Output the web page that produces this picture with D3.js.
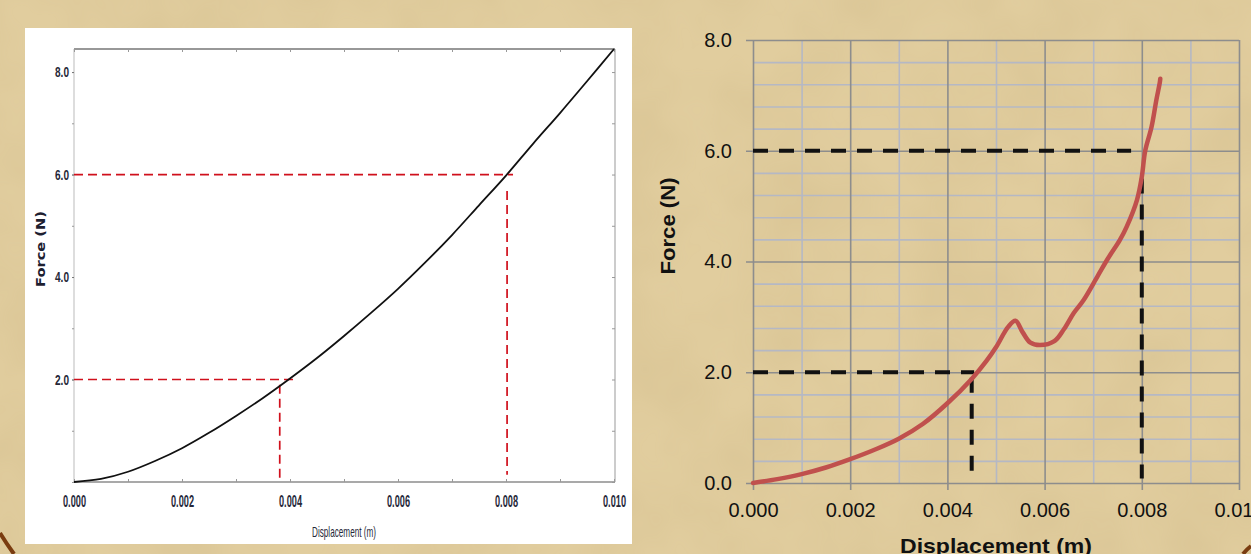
<!DOCTYPE html>
<html>
<head>
<meta charset="utf-8">
<script src="https://cdn.jsdelivr.net/npm/d3@7"></script>
<style>
  body { margin: 0; overflow: hidden; background: #e0cb9c; }
  svg { display: block; }
</style>
</head>
<body>
<div id="chart"></div>
<script>
const W = 1251, H = 554;

// left chart: smooth black loading curve
const leftDisp  = [0, 0.0005, 0.001, 0.0015, 0.002, 0.0025, 0.003, 0.0035, 0.004, 0.0045, 0.005, 0.0055, 0.006, 0.0065, 0.007, 0.0075, 0.008, 0.0085, 0.009, 0.0095, 0.010];
const leftForce = [0, 0.06, 0.2, 0.41, 0.66, 0.96, 1.29, 1.64, 2.02, 2.42, 2.85, 3.3, 3.77, 4.28, 4.82, 5.4, 5.98, 6.6, 7.2, 7.82, 8.45];

// right chart: red measured curve with the bump
const rightDisp  = [0, 0.0005, 0.001, 0.0015, 0.002, 0.0025, 0.003, 0.0035, 0.004, 0.0045, 0.0048, 0.005, 0.00525, 0.0054, 0.00555, 0.0057, 0.0059, 0.0062, 0.0064, 0.0066, 0.0068, 0.0071, 0.0073, 0.00755, 0.00769, 0.0079, 0.008, 0.00807, 0.0082, 0.0083, 0.00837, 0.00838];
const rightForce = [0, 0.07, 0.16, 0.28, 0.43, 0.6, 0.8, 1.07, 1.44, 1.88, 2.2, 2.45, 2.82, 2.93, 2.72, 2.54, 2.49, 2.56, 2.78, 3.07, 3.3, 3.75, 4.05, 4.39, 4.63, 5.11, 5.53, 6.0, 6.43, 6.92, 7.23, 7.3];

const dispTicks = [0, 0.002, 0.004, 0.006, 0.008, 0.010];
const forceTicksRight = [0, 2, 4, 6, 8];
const forceTicksLeft = [2, 4, 6, 8];

// guide lines: [x0, y0, x1, y1] in data units
const leftGuides = [
  [0, 2.0, 0.0041, 2.0], [0.00381, 1.9, 0.00381, 0.05],
  [0, 6.0, 0.00813, 6.0], [0.00802, 5.68, 0.00802, 0.14]
];
const rightGuides = [
  [0, 2.0, 0.00455, 2.0], [0.0045, 1.9, 0.0045, 0.08],
  [0, 6.0, 0.00778, 6.0], [0.0080, 5.5, 0.0080, 0.08]
];

const svg = d3.select("#chart").append("svg")
  .attr("width", W)
  .attr("height", H);

// parchment background
const defs = svg.append("defs");
const f = defs.append("filter").attr("id", "paper").attr("x", 0).attr("y", 0).attr("width", "100%").attr("height", "100%");
f.append("feTurbulence").attr("type", "fractalNoise").attr("baseFrequency", "0.012").attr("numOctaves", 3).attr("seed", 4);
f.append("feColorMatrix").attr("values", "0 0 0 0 0.55  0 0 0 0 0.42  0 0 0 0 0.2  0 0 0 0.35 -0.1");
f.append("feComposite").attr("in2", "SourceGraphic").attr("operator", "in");

svg.append("rect").attr("width", W).attr("height", H).attr("fill", "#e1cd9e");
svg.append("rect").attr("width", W).attr("height", H).attr("fill", "#e1cd9e").attr("filter", "url(#paper)");
svg.append("path").attr("d", "M0,533 Q6,543 14,554").attr("fill", "none").attr("stroke", "#7a3c10").attr("stroke-width", 4);
svg.append("path").attr("d", "M1243,554 Q1247,549 1251,546").attr("fill", "none").attr("stroke", "#7a3c10").attr("stroke-width", 4);

// ---------------- left chart ----------------
svg.append("rect").attr("x", 25).attr("y", 28).attr("width", 607).attr("height", 516).attr("fill", "#fff");

const xL = d3.scaleLinear().domain([0, 0.010]).range([74, 614]);
const yL = d3.scaleLinear().domain([0, 8.45]).range([482, 49]);
const narrow = "'Liberation Sans Narrow', 'Arial Narrow', sans-serif";

// frame
svg.append("line").attr("x1", 74).attr("x2", 615).attr("y1", 49).attr("y2", 49).attr("stroke", "#333").attr("stroke-width", 1.2);
svg.append("line").attr("x1", 74).attr("x2", 615).attr("y1", 482).attr("y2", 482).attr("stroke", "#555").attr("stroke-width", 1.2);
svg.append("line").attr("x1", 74).attr("x2", 74).attr("y1", 49).attr("y2", 482).attr("stroke", "#bbb").attr("stroke-width", 1);
svg.append("line").attr("x1", 615).attr("x2", 615).attr("y1", 49).attr("y2", 482).attr("stroke", "#aaa").attr("stroke-width", 1.2);

const minorX = d3.range(0, 0.0105, 0.001);
const minorY = d3.range(0, 8.5, 1);

const tickStyle = g => {
  g.select(".domain").remove();
  g.selectAll("line").attr("stroke", "#999");
  g.selectAll("text").remove();
};
svg.append("g").attr("transform", "translate(0,482)")
  .call(d3.axisBottom(xL).tickValues(minorX).tickSize(-3)).call(tickStyle);
svg.append("g").attr("transform", "translate(0,49)")
  .call(d3.axisTop(xL).tickValues(minorX).tickSize(-3)).call(tickStyle);
svg.append("g").attr("transform", "translate(74,0)")
  .call(d3.axisLeft(yL).tickValues(minorY).tickSize(2)).call(tickStyle);
svg.append("g").attr("transform", "translate(615,0)")
  .call(d3.axisRight(yL).tickValues(minorY).tickSize(-3)).call(tickStyle);

const lxAxis = svg.append("g").attr("transform", "translate(0,482)")
  .call(d3.axisBottom(xL).tickValues(dispTicks).tickFormat(d3.format(".3f")).tickSize(0).tickPadding(25));
lxAxis.select(".domain").remove();
lxAxis.selectAll("text")
  .attr("font-family", narrow).attr("font-size", 17).attr("font-weight", "bold").attr("fill", "#262838")
  .attr("dy", 0).attr("textLength", 23).attr("lengthAdjust", "spacingAndGlyphs");

const lyAxis = svg.append("g").attr("transform", "translate(74,0)")
  .call(d3.axisLeft(yL).tickValues(forceTicksLeft).tickFormat(d3.format(".1f")).tickSize(2).tickPadding(3));
lyAxis.select(".domain").remove();
lyAxis.selectAll("line").attr("stroke", "#777");
lyAxis.selectAll("text")
  .attr("font-family", narrow).attr("font-size", 15).attr("font-weight", "bold").attr("fill", "#262838")
  .attr("textLength", 14).attr("lengthAdjust", "spacingAndGlyphs");

svg.append("text").attr("x", 344).attr("y", 537).attr("text-anchor", "middle")
  .attr("font-family", narrow).attr("font-size", 15).attr("fill", "#262838")
  .attr("textLength", 64).attr("lengthAdjust", "spacingAndGlyphs")
  .text("Displacement (m)");
svg.append("text").attr("transform", "translate(45,249) rotate(-90)").attr("text-anchor", "middle")
  .attr("font-family", "'DejaVu Sans', sans-serif").attr("font-size", 12).attr("font-weight", "bold").attr("fill", "#1d2030")
  .attr("textLength", 76).attr("lengthAdjust", "spacingAndGlyphs")
  .text("Force (N)");

svg.append("g").selectAll("line").data(leftGuides).join("line")
  .attr("x1", d => xL(d[0])).attr("y1", d => yL(d[1]))
  .attr("x2", d => xL(d[2])).attr("y2", d => yL(d[3]))
  .attr("stroke", "#d0101c").attr("stroke-width", 1.7).attr("stroke-dasharray", "9,5");

const lineL = d3.line().x((d, i) => xL(leftDisp[i])).y(d => yL(d)).curve(d3.curveCatmullRom.alpha(0.5));
svg.append("path").datum(leftForce).attr("d", lineL)
  .attr("fill", "none").attr("stroke", "#111").attr("stroke-width", 1.8);

// ---------------- right chart ----------------
const xR = d3.scaleLinear().domain([0, 0.010]).range([753, 1239]);
const yR = d3.scaleLinear().domain([0, 8]).range([483, 40]);

const gridMinorX = d3.range(0.001, 0.0105, 0.002);
const gridMinorY = d3.range(0.4, 8, 0.4).filter(v => Math.abs(v / 2 - Math.round(v / 2)) > 0.01);

const gridStyle = (g, col, w) => {
  g.select(".domain").remove();
  g.selectAll("text").remove();
  g.selectAll("line").attr("stroke", col).attr("stroke-width", w);
};
svg.append("g").attr("transform", "translate(0,483)")
  .call(d3.axisBottom(xR).tickValues(gridMinorX).tickSize(-443)).call(gridStyle, "#b5b8c4", 1.6);
svg.append("g").attr("transform", "translate(753,0)")
  .call(d3.axisLeft(yR).tickValues(gridMinorY).tickSize(-486)).call(gridStyle, "#b5b8c4", 1.6);
svg.append("g").attr("transform", "translate(0,490)")
  .call(d3.axisBottom(xR).tickValues(dispTicks).tickSize(-450)).call(gridStyle, "#8d8d8d", 1.6);
svg.append("g").attr("transform", "translate(746,0)")
  .call(d3.axisLeft(yR).tickValues(forceTicksRight).tickSize(-493)).call(gridStyle, "#8d8d8d", 1.6);

const rxAxis = svg.append("g").attr("transform", "translate(0,483)")
  .call(d3.axisBottom(xR).tickValues(dispTicks).tickFormat(d3.format(".3f")).tickSize(0).tickPadding(20));
rxAxis.select(".domain").remove();
rxAxis.selectAll("text").attr("font-family", "'Liberation Sans', Arial, sans-serif").attr("font-size", 20).attr("fill", "#111");

const ryAxis = svg.append("g").attr("transform", "translate(753,0)")
  .call(d3.axisLeft(yR).tickValues(forceTicksRight).tickFormat(d3.format(".1f")).tickSize(0).tickPadding(21));
ryAxis.select(".domain").remove();
ryAxis.selectAll("text").attr("font-family", "'Liberation Sans', Arial, sans-serif").attr("font-size", 20).attr("fill", "#111");

svg.append("text").attr("x", 996).attr("y", 553).attr("text-anchor", "middle")
  .attr("font-family", "'Liberation Sans', Arial, sans-serif").attr("font-size", 21).attr("font-weight", "bold").attr("fill", "#111")
  .attr("textLength", 192).attr("lengthAdjust", "spacingAndGlyphs")
  .text("Displacement (m)");
svg.append("text").attr("transform", "translate(675,226) rotate(-90)").attr("text-anchor", "middle")
  .attr("font-family", "'Liberation Sans', Arial, sans-serif").attr("font-size", 20).attr("font-weight", "bold").attr("fill", "#111")
  .attr("textLength", 97).attr("lengthAdjust", "spacingAndGlyphs")
  .text("Force (N)");

svg.append("g").selectAll("line").data(rightGuides).join("line")
  .attr("x1", d => xR(d[0])).attr("y1", d => yR(d[1]))
  .attr("x2", d => xR(d[2])).attr("y2", d => yR(d[3]))
  .attr("stroke", "#111").attr("stroke-width", 4).attr("stroke-dasharray", "15,11");

const lineR = d3.line().x((d, i) => xR(rightDisp[i])).y(d => yR(d)).curve(d3.curveCatmullRom.alpha(0.5));
svg.append("path").datum(rightForce).attr("d", lineR)
  .attr("fill", "none").attr("stroke", "#c0504d").attr("stroke-width", 4.5)
  .attr("stroke-linecap", "round").attr("stroke-linejoin", "round");
</script>
</body>
</html>
